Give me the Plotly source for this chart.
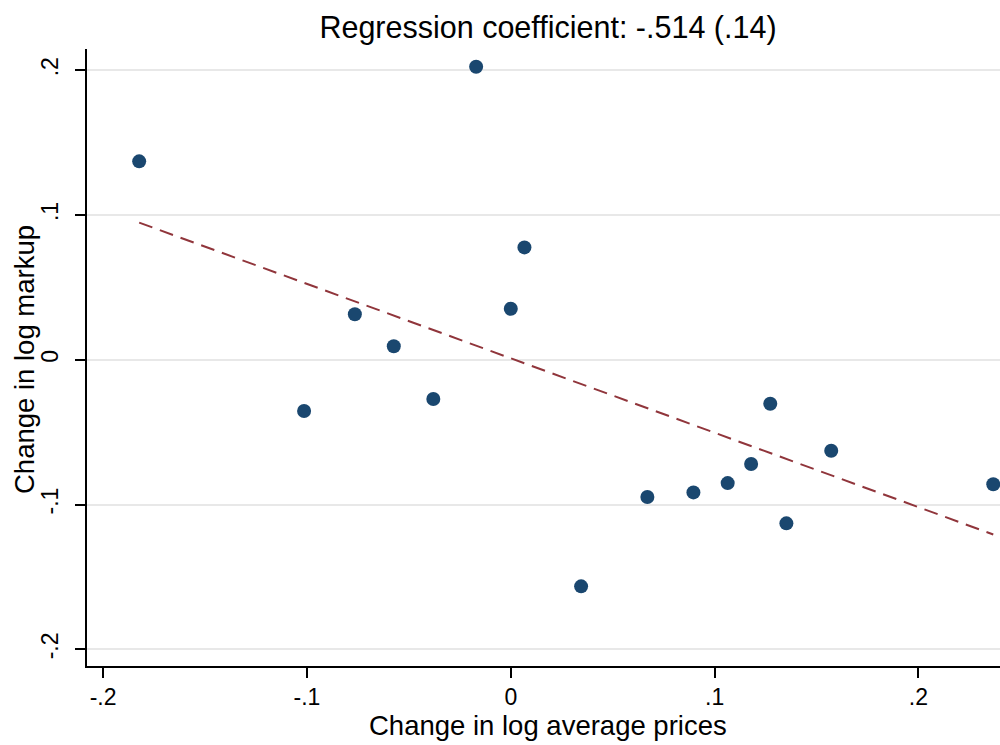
import plotly.graph_objects as go
import numpy as np

# Data
price_change = [-0.1823, -0.0170, 0.0067, 0.0000, -0.0765, -0.0574, -0.1014, -0.0380,
                0.0345, 0.0670, 0.0896, 0.1064, 0.1179, 0.1273, 0.1352, 0.1572, 0.2367]
markup_change = [0.1370, 0.2023, 0.0776, 0.0352, 0.0314, 0.0093, -0.0354, -0.0271,
                 -0.1565, -0.0948, -0.0916, -0.0852, -0.0720, -0.0304, -0.1130, -0.0628, -0.0860]
fit_slope = -0.514
fit_intercept = 0.001
x_tickvals = [-0.2, -0.1, 0.0, 0.1, 0.2]
x_ticktext = ["-.2", "-.1", "0", ".1", ".2"]
y_tickvals = [-0.2, -0.1, 0.0, 0.1, 0.2]
y_ticktext = ["-.2", "-.1", "0", ".1", ".2"]
title_text = "Regression coefficient: -.514 (.14)"
x_title = "Change in log average prices"
y_title = "Change in log markup"

fit_x = np.array([min(price_change), max(price_change)])
fit_y = fit_intercept + fit_slope * fit_x

FONT = "Liberation Sans, Arial, sans-serif"

fig = go.Figure()
fig.add_trace(go.Scatter(
    x=fit_x, y=fit_y, mode="lines",
    line=dict(color="#90353b", width=2, dash="14px,8px"),
    hoverinfo="skip", showlegend=False,
))
fig.add_trace(go.Scatter(
    x=price_change, y=markup_change, mode="markers",
    marker=dict(color="#1a476f", size=14, line=dict(width=0)),
    showlegend=False, cliponaxis=False,
))

fig.update_layout(
    width=1000, height=745,
    margin=dict(l=87, r=0, t=49, b=79),
    paper_bgcolor="white", plot_bgcolor="white",
    font=dict(family=FONT, color="black"),
    title=dict(text=title_text, x=0.548, xref="container", xanchor="center",
               y=1 - 27 / 745, yref="container", yanchor="middle",
               font=dict(size=30.5, family=FONT, color="black")),
    showlegend=False,
)
fig.update_xaxes(
    range=[-0.2079, 0.240], tickvals=x_tickvals, ticktext=x_ticktext,
    showgrid=False, zeroline=False,
    showline=True, linecolor="black", linewidth=1.5,
    ticks="outside", ticklen=10, tickwidth=1.5, tickcolor="black",
    tickfont=dict(size=23, family=FONT, color="black"),
)
fig.update_yaxes(
    range=[-0.2115, 0.2146], tickvals=y_tickvals, ticktext=y_ticktext,
    showgrid=True, gridcolor="#e8e8e8", gridwidth=1.5, zeroline=False,
    showline=True, linecolor="black", linewidth=1.5,
    ticks="outside", ticklen=10, tickwidth=1.5, tickcolor="black",
    tickangle=-90, ticklabelstandoff=8,
    tickfont=dict(size=23, family=FONT, color="black"),
)
fig.add_annotation(text=x_title, xref="paper", yref="paper",
                   x=(548 - 87) / 913, y=-(725 - 666) / 617, xanchor="center", yanchor="middle",
                   showarrow=False, font=dict(size=27.5, family=FONT, color="black"))
fig.add_annotation(text=y_title, xref="paper", yref="paper",
                   x=-(87 - 25) / 913, y=(666 - 360) / 617, xanchor="center", yanchor="middle",
                   textangle=-90, showarrow=False, font=dict(size=27.5, family=FONT, color="black"))

fig.write_html("out.html", config={"displayModeBar": False},
               post_script="document.body.style.margin='0';document.body.style.overflow='hidden';")
